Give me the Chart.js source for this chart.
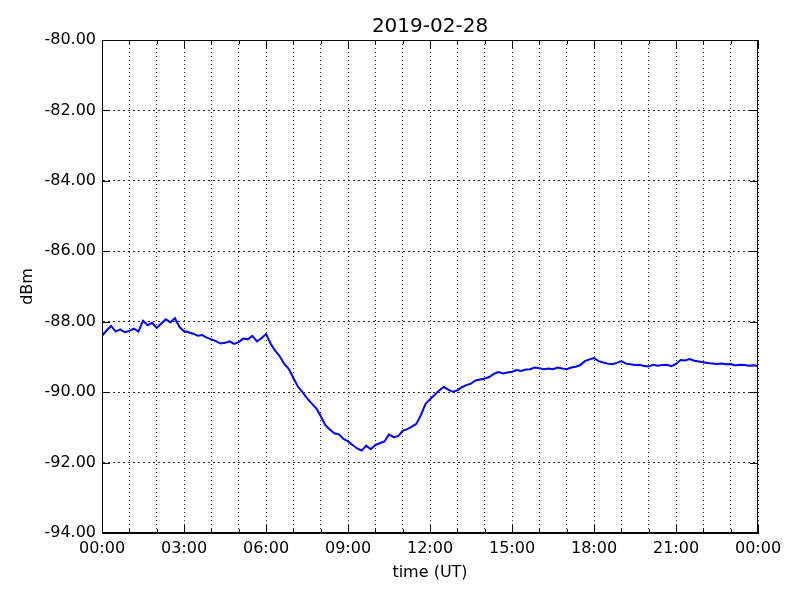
<!DOCTYPE html>
<html>
<head>
<meta charset="utf-8">
<script src="https://cdn.jsdelivr.net/npm/chart.js@4/dist/chart.umd.min.js"></script>
<style>
  html, body { margin: 0; padding: 0; background: #fff; }
  #wrap { width: 800px; height: 600px; }
</style>
</head>
<body>
<div id="wrap"><canvas id="lineChart" width="800" height="600"></canvas></div>
<script>
// signal level, one reading every 10 minutes, 00:00 -> 24:00 UT
const TITLE = "2019-02-28";
const dbm = [
  -88.40, -88.25, -88.12, -88.28, -88.22, -88.30, -88.26, -88.20, -88.28, -87.97,
  -88.10, -88.03, -88.18, -88.05, -87.93, -88.02, -87.90, -88.15, -88.27, -88.30,
  -88.34, -88.40, -88.38, -88.45, -88.50, -88.55, -88.62, -88.60, -88.56, -88.63,
  -88.58, -88.48, -88.50, -88.40, -88.56, -88.47, -88.35, -88.62, -88.82, -88.98,
  -89.20, -89.34, -89.60, -89.84, -90.00, -90.17, -90.32, -90.45, -90.68, -90.93,
  -91.06, -91.17, -91.20, -91.33, -91.40, -91.50, -91.60, -91.66, -91.52, -91.62,
  -91.50, -91.45, -91.40, -91.20, -91.28, -91.25, -91.10, -91.05, -90.98, -90.90,
  -90.65, -90.34, -90.20, -90.08, -89.95, -89.85, -89.93, -89.99, -89.95, -89.86,
  -89.80, -89.76, -89.67, -89.64, -89.61, -89.57, -89.48, -89.43, -89.47, -89.44,
  -89.42, -89.37, -89.40, -89.36, -89.35, -89.30, -89.32, -89.35, -89.33, -89.35,
  -89.30, -89.33, -89.35, -89.30, -89.28, -89.23, -89.12, -89.07, -89.03, -89.12,
  -89.16, -89.19, -89.21, -89.17, -89.12, -89.19, -89.21, -89.23, -89.22, -89.26,
  -89.27, -89.22, -89.25, -89.23, -89.22, -89.26, -89.20, -89.09, -89.10, -89.06,
  -89.11, -89.13, -89.15, -89.17, -89.19, -89.20, -89.19, -89.21, -89.20, -89.24,
  -89.22, -89.23, -89.25, -89.24, -89.26
];
const hours = dbm.map((_, i) => i / 6);
const xTickLabels = ["00:00", "03:00", "06:00", "09:00", "12:00", "15:00", "18:00", "21:00", "00:00"];
const yTicks = [-94, -92, -90, -88, -86, -84, -82, -80];

const FONT = "'DejaVu Sans', sans-serif";
Chart.defaults.font.family = FONT;
Chart.defaults.color = "#000";

// matplotlib-style box round the plot, with inward tick marks
const frame = {
  id: "frame",
  afterDraw(chart) {
    const { ctx, chartArea: a, scales } = chart;
    ctx.save();
    ctx.strokeStyle = "#000";
    ctx.lineWidth = 1;
    ctx.strokeRect(a.left + 0.5, a.top + 0.5, a.right - a.left - 1, a.bottom - a.top - 1);
    ctx.beginPath();
    scales.x.ticks.forEach(t => {
      const px = Math.round(scales.x.getPixelForValue(t.value)) + 0.5;
      const len = t.value % 3 === 0 ? 8 : 4;
      ctx.moveTo(px, a.bottom); ctx.lineTo(px, a.bottom - len);
      ctx.moveTo(px, a.top); ctx.lineTo(px, a.top + len);
    });
    scales.y.ticks.forEach(t => {
      const py = Math.round(scales.y.getPixelForValue(t.value)) + 0.5;
      ctx.moveTo(a.left, py); ctx.lineTo(a.left + 8, py);
      ctx.moveTo(a.right, py); ctx.lineTo(a.right - 8, py);
    });
    ctx.stroke();
    ctx.restore();
  }
};

new Chart(document.getElementById("lineChart"), {
  type: "line",
  data: {
    datasets: [{
      label: "dBm",
      data: hours.map((h, i) => ({ x: h, y: dbm[i] })),
      borderColor: "#0000ff",
      borderWidth: 2,
      pointRadius: 0,
      tension: 0,
      fill: false
    }]
  },
  options: {
    responsive: false,
    animation: false,
    layout: { padding: { left: 0, right: 42, top: 0, bottom: 0 } },
    plugins: {
      legend: { display: false },
      tooltip: { enabled: false },
      title: {
        display: true,
        fullSize: false,
        text: TITLE,
        font: { size: 20, weight: "normal", family: FONT, lineHeight: 1.0 },
        color: "#000",
        padding: { top: 17, bottom: 3 }
      }
    },
    scales: {
      x: {
        type: "linear",
        min: 0,
        max: 24,
        afterFit(s) { s.height = 67; },
        border: { display: true, color: "#000", dash: [1, 3] },
        grid: { color: "rgba(0,0,0,0.85)", lineWidth: 1, drawTicks: false },
        ticks: {
          stepSize: 1,
          autoSkip: false,
          maxRotation: 0,
          padding: 6,
          font: { size: 16 },
          callback: (v) => (v % 3 === 0 ? xTickLabels[v / 3] : "")
        },
        title: {
          display: true,
          text: "time (UT)",
          font: { size: 16 },
          padding: { top: 4, bottom: 18 }
        }
      },
      y: {
        min: -94,
        max: -80,
        afterFit(s) { s.width = 102; },
        afterBuildTicks(s) { s.ticks = yTicks.map(v => ({ value: v })); },
        border: { display: true, color: "#000", dash: [2, 3] },
        grid: { color: "rgba(0,0,0,0.85)", lineWidth: 1, drawTicks: false },
        ticks: {
          padding: 6,
          font: { size: 16 },
          callback: (v) => v.toFixed(2)
        },
        title: {
          display: true,
          text: "dBm",
          font: { size: 16 },
          padding: { top: 18, bottom: 0 }
        }
      }
    }
  },
  plugins: [frame]
});
</script>
</body>
</html>
